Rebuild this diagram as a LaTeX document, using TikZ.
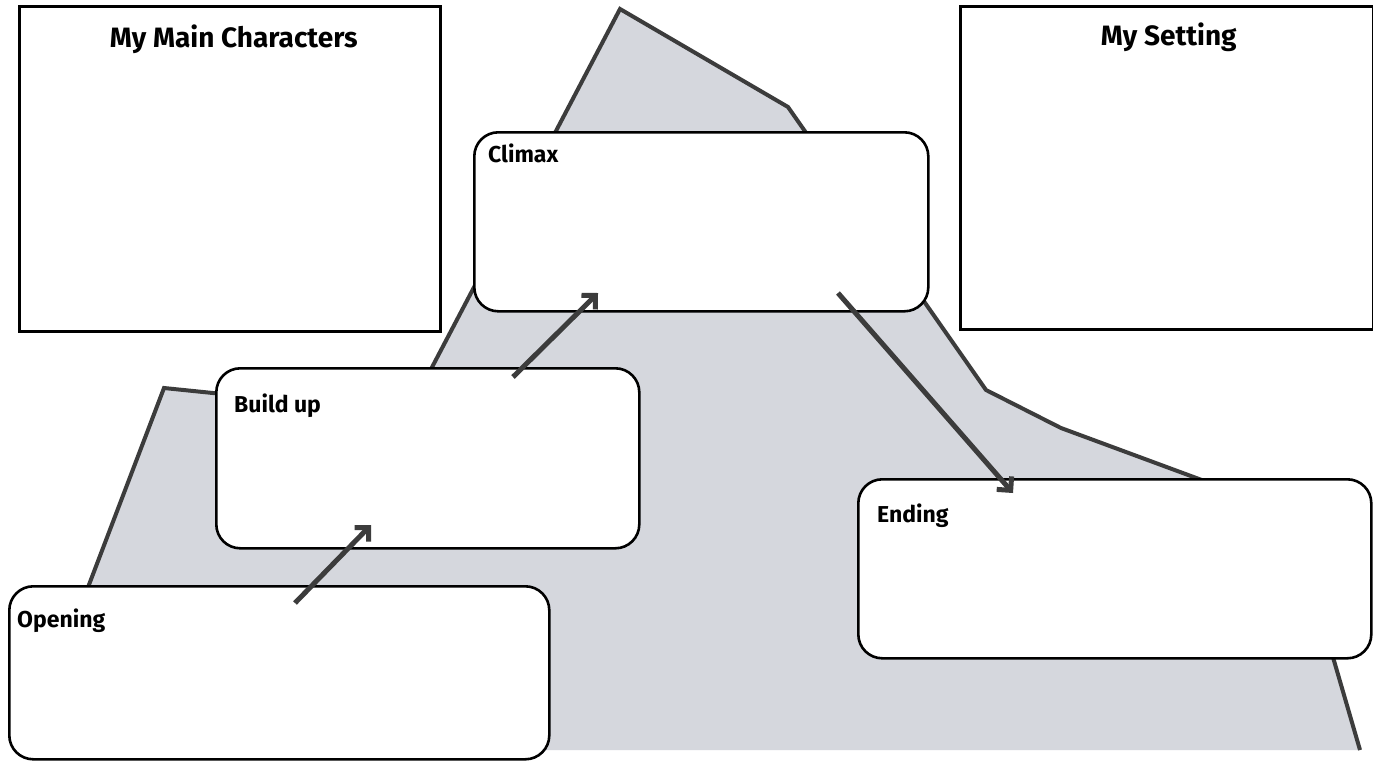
\documentclass[tikz,border=0pt]{standalone}
\usepackage{fontspec}
\setmainfont{Fira Sans}
\usetikzlibrary{calc,arrows.meta}
\definecolor{hill}{HTML}{D5D7DD}
\definecolor{ink}{HTML}{3C3C3C}

\begin{document}
\begin{tikzpicture}[x=1pt,y=-1pt,
  infobox/.style={draw=black,line width=2.6pt,fill=white,anchor=north west,inner sep=0pt},
  stagebox/.style={infobox,rounded corners=24pt},
  title/.style={font=\fontsize{28}{33}\selectfont\bfseries,anchor=base,inner sep=0pt},
  stagename/.style={font=\fontsize{23}{28}\selectfont\bfseries,anchor=base west,inner sep=0pt},
  plot/.style={draw=ink,line width=5pt,-{Straight Barb[angle=90:14pt]}}]
\useasboundingbox (0,0) rectangle (1373,763);
\fill[white] (0,0) rectangle (1373,763);
\fill[hill] (26,750) -- (164,388) -- (408,413) -- (620,9) -- (788,107) -- (986,390)
  -- (1061,428) -- (1291,513) -- (1360,750) -- cycle;
\draw[ink,line width=4pt] (26,750) -- (164,388) -- (408,413) -- (620,9) -- (788,107)
  -- (986,390) -- (1061,428) -- (1291,513) -- (1360,750);
\node[infobox,minimum width=421,minimum height=325] (chars) at (18,5) {};
\node[infobox,minimum width=413,minimum height=323] (setting) at (959,5) {};
\node[stagebox,minimum width=454,minimum height=179] (climax) at (473,131) {};
\node[stagebox,minimum width=423,minimum height=180] (buildup) at (215,367) {};
\node[stagebox,minimum width=540,minimum height=173] (opening) at (8,585) {};
\node[stagebox,minimum width=513,minimum height=179] (ending) at (857,478) {};
\node[title] (charstitle) at ($(chars.north)+(4,42)$) {My Main Characters};
\node[title] (settingtitle) at ($(setting.north)+(2,40)$) {My Setting};
\node[stagename] (climaxname) at ($(climax.north west)+(15,31)$) {Climax};
\node[stagename] (buildupname) at ($(buildup.north west)+(19,45)$) {Build up};
\node[stagename] (openingname) at ($(opening.north west)+(9,42)$) {Opening};
\node[stagename] (endingname) at ($(ending.north west)+(20,44)$) {Ending};
\coordinate (opentail) at (295,603);
\coordinate (buildtip) at (371,525);
\coordinate (buildtail) at (513,377);
\coordinate (climaxtip) at (598,293);
\coordinate (climaxtail) at (838,293);
\coordinate (endtip) at (1013,493);
\draw[plot] (opentail) -- (buildtip);
\draw[plot] (buildtail) -- (climaxtip);
\draw[plot] (climaxtail) -- (endtip);
\end{tikzpicture}
\end{document}
